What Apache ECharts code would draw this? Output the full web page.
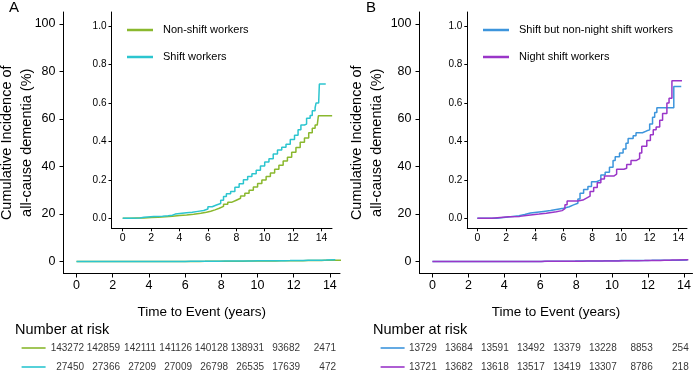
<!DOCTYPE html>
<html>
<head>
<meta charset="utf-8">
<script src="https://cdn.jsdelivr.net/npm/echarts@6/dist/echarts.min.js"></script>
<style>
  html, body { margin: 0; padding: 0; background: #fff; }
  #chart { width: 696px; height: 371px; }
</style>
</head>
<body>
<div id="chart"></div>
<script>
// cumulative incidence (%), step data
const nonShiftT = [0, 0.5, 1.0, 1.5, 2.0, 2.5, 3.0, 3.5, 4.0, 4.5, 5.0, 5.5, 5.9, 6.2, 6.5, 6.8, 7.1, 7.4, 7.7, 8.0,
  8.3, 8.6, 8.9, 9.2, 9.5, 9.8, 10.1, 10.4, 10.7, 11.0, 11.3, 11.6, 11.9, 12.2, 12.5, 12.8, 13.1, 13.35, 13.55, 13.7, 13.78, 14.75]
const nonShiftV = [0, 0.001, 0.002, 0.004, 0.006, 0.008, 0.011, 0.014, 0.017, 0.021, 0.026, 0.031, 0.037, 0.044, 0.052, 0.062, 0.073, 0.084, 0.094, 0.104,
  0.116, 0.13, 0.146, 0.163, 0.181, 0.199, 0.217, 0.235, 0.255, 0.276, 0.298, 0.318, 0.343, 0.368, 0.395, 0.418, 0.445, 0.468, 0.485, 0.492, 0.533, 0.533]

const shiftT = [0, 0.6, 1.2, 1.5, 2.2, 2.8, 3.2, 3.5, 3.7, 4.5, 4.9, 5.3, 5.7, 6.0, 6.3, 6.6, 6.9, 7.1, 7.3, 7.6, 7.9,
  8.2, 8.5, 8.8, 9.1, 9.4, 9.7, 10.0, 10.3, 10.6, 10.9, 11.2, 11.5, 11.8, 12.1, 12.35, 12.55, 12.8, 12.95, 13.2, 13.35, 13.55, 13.62, 13.8, 13.85, 14.3]
const shiftV = [0, 0.002, 0.005, 0.009, 0.011, 0.013, 0.016, 0.022, 0.029, 0.031, 0.036, 0.041, 0.048, 0.06, 0.069, 0.077, 0.094, 0.113, 0.128, 0.14, 0.162,
  0.18, 0.2, 0.217, 0.232, 0.25, 0.272, 0.293, 0.31, 0.335, 0.355, 0.37, 0.385, 0.41, 0.432, 0.46, 0.485, 0.49, 0.52, 0.535, 0.56, 0.575, 0.6, 0.603, 0.698, 0.698]

const nonNightT = [0, 1.35, 2.3, 2.9, 3.3, 3.7, 4.6, 5.1, 5.6, 6.0, 6.4, 6.7, 7.0, 7.15, 7.4, 7.7, 7.95, 8.3, 8.6, 8.9, 9.2,
  9.45, 9.6, 9.9, 10.15, 10.35, 10.5, 10.85, 11.05, 11.5, 11.8, 12.0, 12.2, 12.35, 12.5, 13.68, 14.2]
const nonNightV = [0, 0.008, 0.013, 0.02, 0.028, 0.036, 0.04, 0.047, 0.052, 0.06, 0.07, 0.078, 0.1, 0.13, 0.15, 0.165, 0.19, 0.2, 0.225, 0.24, 0.265,
  0.3, 0.32, 0.34, 0.36, 0.39, 0.415, 0.43, 0.445, 0.455, 0.46, 0.49, 0.525, 0.55, 0.575, 0.685, 0.685]

const nightT = [0, 1.0, 2.2, 2.95, 3.4, 4.3, 4.8, 5.5, 5.9, 6.1, 6.25, 7.0, 7.35, 7.6, 7.85, 8.1, 8.35, 8.6, 8.85, 9.5, 9.7,
  10.2, 10.4, 10.7, 11.05, 11.3, 11.45, 11.8, 12.05, 12.25, 12.45, 12.7, 12.9, 13.2, 13.35, 13.55, 14.25]
const nightV = [0, 0.008, 0.01, 0.015, 0.022, 0.026, 0.034, 0.04, 0.05, 0.07, 0.09, 0.095, 0.105, 0.115, 0.14, 0.16, 0.185, 0.205, 0.22, 0.23, 0.255,
  0.26, 0.28, 0.3, 0.31, 0.34, 0.375, 0.405, 0.435, 0.46, 0.475, 0.51, 0.545, 0.6, 0.625, 0.715, 0.715]

// number at risk
const riskYears = [0, 2, 4, 6, 8, 10, 12, 14]
const riskNonShift = [143272, 142859, 142111, 141126, 140128, 138931, 93682, 2471]
const riskShift = [27450, 27366, 27209, 27009, 26798, 26535, 17639, 472]
const riskNonNight = [13729, 13684, 13591, 13492, 13379, 13228, 8853, 254]
const riskNight = [13721, 13682, 13618, 13517, 13419, 13307, 8786, 218]

// ticks
const timeTicks = [0, 2, 4, 6, 8, 10, 12, 14]
const mainTicks = [0, 20, 40, 60, 80, 100]
const insetTicks = [0, 0.2, 0.4, 0.6, 0.8, 1.0]

const FONT = '"Liberation Sans", Arial, sans-serif'
const GREEN = '#8ab82e'
const TEAL = '#2cc5cf'
const BLUE = '#3d95dc'
const PURPLE = '#9a36c8'

function pairs(ts, vs) {
  return ts.map((t, i) => [t, vs[i]])
}

function xAxis(gridIndex, min, max, inset) {
  return {
    type: 'value', gridIndex, min, max,
    axisLine: { show: true, onZero: false, lineStyle: { color: '#000', width: 1 } },
    axisTick: { show: true, length: inset ? 3 : 4, customValues: timeTicks, lineStyle: { color: '#000' } },
    axisLabel: { customValues: timeTicks, color: '#000', fontFamily: FONT, fontSize: inset ? 10.5 : 12.5, margin: inset ? 4 : 6 },
    splitLine: { show: false },
    name: inset ? '' : 'Time to Event (years)',
    nameLocation: 'middle',
    nameGap: 32,
    nameMoveOverlap: false,
    nameTextStyle: { color: '#000', fontFamily: FONT, fontSize: 13.5 }
  }
}

function yAxis(gridIndex, min, max, inset, gap) {
  return {
    type: 'value', gridIndex, min, max,
    axisLine: { show: true, onZero: false, lineStyle: { color: '#000', width: 1 } },
    axisTick: { show: true, length: inset ? 3 : 4, customValues: inset ? insetTicks : mainTicks, lineStyle: { color: '#000' } },
    axisLabel: {
      customValues: inset ? insetTicks : mainTicks,
      color: '#000', fontFamily: FONT,
      fontSize: inset ? 10 : 12.5, margin: inset ? 5 : 8,
      formatter: inset ? (v => v.toFixed(1)) : (v => String(v))
    },
    splitLine: { show: false },
    name: inset ? '' : 'Cumulative Incidence of\nall-cause dementia (%)',
    nameLocation: 'middle',
    nameRotate: 90,
    nameGap: gap,
    nameMoveOverlap: false,
    nameTextStyle: { color: '#000', fontFamily: FONT, fontSize: 14.5, lineHeight: 20 }
  }
}

function curve(name, color, data, axisIndex) {
  return {
    name, type: 'line', step: 'end', data,
    xAxisIndex: axisIndex, yAxisIndex: axisIndex,
    symbol: 'none', showSymbol: false, clip: true,
    lineStyle: { color, width: 1.5 }, itemStyle: { color },
    emphasis: { disabled: true }, animation: false
  }
}

function riskRow(values, row, color, axisIndex, markerT) {
  const data = riskYears.map((t, i) => [t, row, values[i]])
  data.push({ value: [markerT, row, ''], symbol: 'rect', symbolSize: [24, 2], itemStyle: { color }, label: { show: false } })
  return {
    type: 'scatter', xAxisIndex: axisIndex, yAxisIndex: axisIndex,
    data, symbolSize: 0, clip: false, animation: false, silent: true,
    itemStyle: { color },
    label: {
      show: true, position: 'left', distance: 0,
      formatter: p => String(p.value[2]),
      color: '#000', fontFamily: FONT, fontSize: 10
    }
  }
}

function hiddenAxes(gridIndex) {
  return {
    x: { type: 'value', gridIndex, min: -3, max: 14, show: false },
    y: { type: 'value', gridIndex, min: 0, max: 1, inverse: true, show: false }
  }
}

const tblL = hiddenAxes(4)
const tblR = hiddenAxes(5)

const chart = echarts.init(document.getElementById('chart'), null, { renderer: 'canvas' })
chart.setOption({
  animation: false,
  backgroundColor: '#fff',
  title: [
    { text: 'A', left: 9, top: 0, padding: 0, textStyle: { fontFamily: FONT, fontSize: 15, fontWeight: 'normal', color: '#000' } },
    { text: 'B', left: 366, top: 0, padding: 0, textStyle: { fontFamily: FONT, fontSize: 15, fontWeight: 'normal', color: '#000' } },
    { text: 'Number at risk', left: 15, top: 322, padding: 0, textStyle: { fontFamily: FONT, fontSize: 14.5, fontWeight: 'normal', color: '#000' } },
    { text: 'Number at risk', left: 373, top: 322, padding: 0, textStyle: { fontFamily: FONT, fontSize: 14.5, fontWeight: 'normal', color: '#000' } }
  ],
  legend: [
    {
      data: ['Non-shift workers', 'Shift workers'], left: 122, top: 18, orient: 'vertical',
      icon: 'rect', itemWidth: 26, itemHeight: 2.5, itemGap: 13, selectedMode: false,
      textStyle: { color: '#000', fontFamily: FONT, fontSize: 11, lineHeight: 14, padding: [0, 0, 0, 5] }
    },
    {
      data: ['Shift but non-night shift workers', 'Night shift workers'], left: 478, top: 18, orient: 'vertical',
      icon: 'rect', itemWidth: 26, itemHeight: 2.5, itemGap: 13, selectedMode: false,
      textStyle: { color: '#000', fontFamily: FONT, fontSize: 11, lineHeight: 14, padding: [0, 0, 0, 5] }
    }
  ],
  grid: [
    { left: 63.5, top: 12, width: 276.5, height: 261.5, outerBoundsMode: 'none' },
    { left: 111.5, top: 12, width: 220.5, height: 216.3, outerBoundsMode: 'none' },
    { left: 419.5, top: 12, width: 273, height: 261.5, outerBoundsMode: 'none' },
    { left: 467.3, top: 12, width: 219.7, height: 216.3, outerBoundsMode: 'none' },
    { left: 30, top: 348, width: 306, height: 19, outerBoundsMode: 'none' },
    { left: 382.7, top: 348, width: 306, height: 19, outerBoundsMode: 'none' }
  ],
  xAxis: [
    xAxis(0, -0.72, 14.56, false),
    xAxis(1, -0.79, 14.74, true),
    xAxis(2, -0.72, 14.48, false),
    xAxis(3, -0.7, 14.6, true),
    tblL.x, tblR.x
  ],
  yAxis: [
    yAxis(0, -5.05, 105.05, false, 27),
    yAxis(1, -0.052, 1.073, true, 0),
    yAxis(2, -5.05, 105.05, false, 33),
    yAxis(3, -0.052, 1.073, true, 0),
    tblL.y, tblR.y
  ],
  series: [
    curve('Non-shift workers', GREEN, pairs(nonShiftT, nonShiftV), 0),
    curve('Shift workers', TEAL, pairs(shiftT, shiftV), 0),
    curve('Non-shift workers', GREEN, pairs(nonShiftT, nonShiftV), 1),
    curve('Shift workers', TEAL, pairs(shiftT, shiftV), 1),
    curve('Shift but non-night shift workers', BLUE, pairs(nonNightT, nonNightV), 2),
    curve('Night shift workers', PURPLE, pairs(nightT, nightV), 2),
    curve('Shift but non-night shift workers', BLUE, pairs(nonNightT, nonNightV), 3),
    curve('Night shift workers', PURPLE, pairs(nightT, nightV), 3),
    riskRow(riskNonShift, 0, GREEN, 4, -2.8),
    riskRow(riskShift, 1, TEAL, 4, -2.8),
    riskRow(riskNonNight, 0, BLUE, 5, -2.45),
    riskRow(riskNight, 1, PURPLE, 5, -2.45)
  ]
})
</script>
</body>
</html>
